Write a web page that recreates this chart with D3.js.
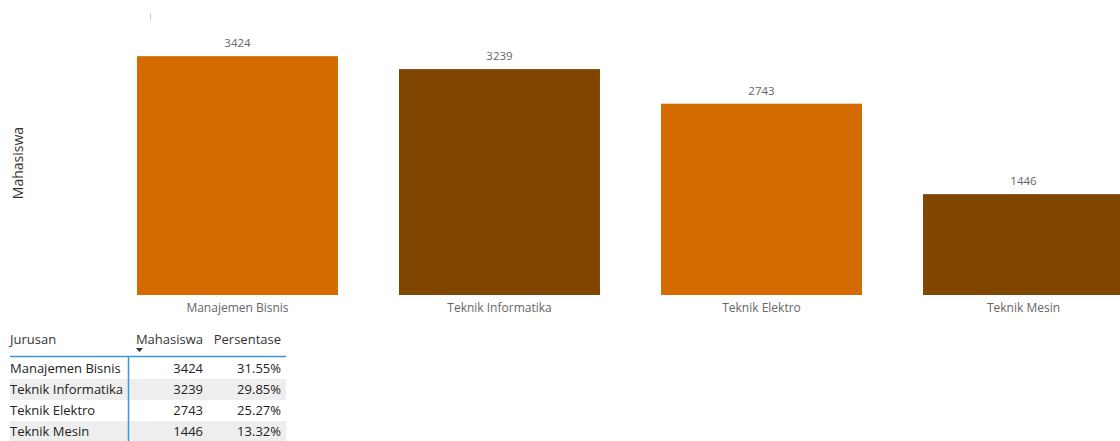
<!DOCTYPE html>
<html>
<head>
<meta charset="utf-8">
<script src="https://cdn.jsdelivr.net/npm/d3@7"></script>
<style>
  body { margin: 0; background: #fff; }
  svg { display: block; font-family: "Open Sans", "Noto Sans", sans-serif; }
</style>
</head>
<body>
<div id="chart"></div>
<script>
const jurusan = ["Manajemen Bisnis", "Teknik Informatika", "Teknik Elektro", "Teknik Mesin"];
const mahasiswa = [3424, 3239, 2743, 1446];
const persentase = ["31.55%", "29.85%", "25.27%", "13.32%"];
const warna = ["#d36b00", "#804600", "#d36b00", "#804600"];

const width = 1120, height = 441;

const svg = d3.select("#chart")
    .append("svg")
    .attr("width", width)
    .attr("height", height);

const x = d3.scaleBand()
    .domain(jurusan)
    .range([137, 1124])
    .paddingInner(0.233)
    .paddingOuter(0);

const y = d3.scaleLinear()
    .domain([0, 4000])
    .range([295, 16]);

// garis kecil di atas
svg.append("line")
    .attr("x1", 150.5).attr("x2", 150.5)
    .attr("y1", 14).attr("y2", 20)
    .attr("stroke", "#c8c8c8");

// judul sumbu y
svg.append("text")
    .attr("transform", "translate(23,163) rotate(-90)")
    .attr("text-anchor", "middle")
    .attr("font-size", 14)
    .attr("fill", "#333")
    .text("Mahasiswa");

// batang
svg.append("g")
    .selectAll("rect")
    .data(jurusan)
    .join("rect")
    .attr("x", d => x(d))
    .attr("y", (d, i) => y(mahasiswa[i]))
    .attr("width", x.bandwidth())
    .attr("height", (d, i) => y(0) - y(mahasiswa[i]))
    .attr("fill", (d, i) => warna[i]);

// label nilai
svg.append("g")
    .selectAll("text")
    .data(jurusan)
    .join("text")
    .attr("x", d => x(d) + x.bandwidth() / 2)
    .attr("y", (d, i) => y(mahasiswa[i]) - 9)
    .attr("text-anchor", "middle")
    .attr("font-size", 11.5)
    .attr("fill", "#666")
    .text((d, i) => mahasiswa[i]);

// sumbu x
const xAxis = svg.append("g")
    .attr("transform", `translate(0,${y(0)})`)
    .call(d3.axisBottom(x).tickSize(0).tickPadding(8));
xAxis.select(".domain").remove();
xAxis.selectAll("text")
    .attr("font-size", 12)
    .attr("fill", "#666")
    .attr("font-family", "\"Open Sans\", sans-serif");

// tabel
const tabel = svg.append("g");
const rowTop = 358, rowH = 21;
const colX = [10, 203, 281];

tabel.selectAll("rect.row")
    .data(jurusan)
    .join("rect")
    .attr("class", "row")
    .attr("x", 10)
    .attr("y", (d, i) => rowTop + i * rowH)
    .attr("width", 276)
    .attr("height", rowH)
    .attr("fill", (d, i) => i % 2 ? "#eeeeee" : "#fff");

const header = ["Jurusan", "Mahasiswa", "Persentase"];
tabel.selectAll("text.head")
    .data(header)
    .join("text")
    .attr("class", "head")
    .attr("x", (d, i) => i == 0 ? 10 : colX[i])
    .attr("y", 344)
    .attr("text-anchor", (d, i) => i == 0 ? "start" : "end")
    .attr("font-size", 13)
    .attr("fill", "#333")
    .text(d => d);

// panah urut
tabel.append("path")
    .attr("d", "M136,348 L143,348 L139.5,352 Z")
    .attr("fill", "#333");

tabel.append("line")
    .attr("x1", 10).attr("x2", 286)
    .attr("y1", 356.5).attr("y2", 356.5)
    .attr("stroke", "#3a96dd")
    .attr("stroke-width", 1.5);

tabel.append("line")
    .attr("x1", 128.5).attr("x2", 128.5)
    .attr("y1", 356).attr("y2", 441)
    .attr("stroke", "#3a96dd")
    .attr("stroke-width", 1.5);

const sel = tabel.selectAll("g.baris")
    .data(jurusan)
    .join("g")
    .attr("class", "baris")
    .attr("transform", (d, i) => `translate(0,${rowTop + i * rowH + 15})`);

sel.append("text")
    .attr("x", 10)
    .attr("font-size", 13)
    .attr("fill", "#222")
    .text(d => d);

sel.append("text")
    .attr("x", colX[1])
    .attr("text-anchor", "end")
    .attr("font-size", 13)
    .attr("fill", "#222")
    .text((d, i) => mahasiswa[i]);

sel.append("text")
    .attr("x", colX[2])
    .attr("text-anchor", "end")
    .attr("font-size", 13)
    .attr("fill", "#222")
    .text((d, i) => persentase[i]);
</script>
</body>
</html>
